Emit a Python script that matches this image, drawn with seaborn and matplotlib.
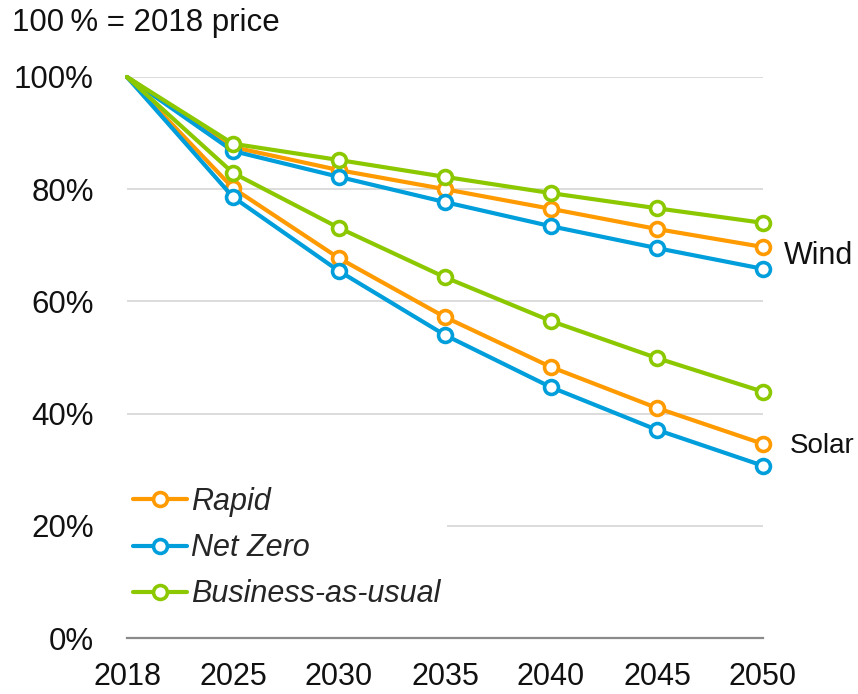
import matplotlib
matplotlib.use("Agg")
import matplotlib.pyplot as plt
import seaborn as sns
import pandas as pd
from matplotlib.lines import Line2D

years = ["2018", "2025", "2030", "2035", "2040", "2045", "2050"]
scenarios = ["Rapid", "Net Zero", "Business-as-usual"]

wind_rapid = [100, 87.5, 83.4, 80.0, 76.5, 72.9, 69.7]
wind_netzero = [100, 86.8, 82.2, 77.7, 73.4, 69.5, 65.8]
wind_bau = [100, 88.1, 85.2, 82.2, 79.3, 76.6, 74.0]
solar_rapid = [100, 80.2, 67.7, 57.2, 48.3, 41.0, 34.6]
solar_netzero = [100, 78.6, 65.4, 54.0, 44.7, 37.1, 30.7]
solar_bau = [100, 82.9, 73.1, 64.3, 56.5, 49.9, 43.9]

yticks = [0, 20, 40, 60, 80, 100]
ytick_labels = ["0%", "20%", "40%", "60%", "80%", "100%"]

colors = {"Rapid": "#FF9A00", "Net Zero": "#009EDB", "Business-as-usual": "#8CC800"}

series = {
    ("Rapid", "Wind"): wind_rapid,
    ("Rapid", "Solar"): solar_rapid,
    ("Net Zero", "Wind"): wind_netzero,
    ("Net Zero", "Solar"): solar_netzero,
    ("Business-as-usual", "Wind"): wind_bau,
    ("Business-as-usual", "Solar"): solar_bau,
}
rows = []
for (sc, tech), vals in series.items():
    for i, (yr, v) in enumerate(zip(years, vals)):
        rows.append({"scenario": sc, "tech": tech, "pos": i, "year": yr, "value": v})
df = pd.DataFrame(rows)

sns.set_theme(style="white")
plt.rcParams["font.family"] = ["Liberation Sans", "DejaVu Sans"]

W, H = 858, 694
fig = plt.figure(figsize=(W / 100, H / 100), dpi=100)
ax = fig.add_axes([127 / W, 1 - 638 / H, (763 - 127) / W, (638 - 77) / H])

for y in yticks[1:]:
    ax.axhline(y, color="#d9d9d9", lw=1.3, zorder=0)

LW, MS, MEW = 3.0, 10, 2.6
for sc in scenarios:
    sub = df[df.scenario == sc]
    sns.lineplot(data=sub, x="pos", y="value", units="tech", estimator=None,
                 color=colors[sc], lw=LW, marker="o", markevery=list(range(1, 7)),
                 ms=MS, mew=MEW, mfc="white", mec=colors[sc], legend=False,
                 ax=ax, clip_on=False, zorder=3)
for ln in ax.lines:
    if ln.get_marker() == "o":
        ln.set_markeredgecolor(ln.get_color())
        ln.set_markerfacecolor("white")

ax.set_xlim(0, 6)
ax.set_ylim(0, 100)
ax.set_xticks(range(len(years)))
ax.set_xticklabels(years)
ax.set_yticks(yticks)
ax.set_yticklabels(ytick_labels)
ax.set_xlabel("")
ax.set_ylabel("")
ax.tick_params(axis="both", length=0, labelsize=22.5, colors="#111111")
ax.tick_params(axis="y", pad=24)
ax.tick_params(axis="x", pad=17, labelsize=22)
for s in ["top", "right", "left"]:
    ax.spines[s].set_visible(False)
ax.spines["bottom"].set_color("#8a8a8a")
ax.spines["bottom"].set_linewidth(1.6)

ax.text(6.2, wind_rapid[-1] - 1.6, "Wind", fontsize=22, va="center", ha="left", color="#111111")
ax.text(6.25, solar_rapid[-1] - 0.3, "Solar", fontsize=20, va="center", ha="left", color="#111111")

fig.text(12 / W, 1 - 23 / H, "100\u2009% = 2018 price", fontsize=22.5, va="center", ha="left",
         color="#111111")

handles = [Line2D([0], [0], color=colors[sc], lw=LW, marker="o", ms=MS, mew=MEW,
                  mfc="white", mec=colors[sc]) for sc in scenarios]
leg = ax.legend(handles, scenarios, loc="lower left", bbox_to_anchor=(0.0, 0.04),
                frameon=True, facecolor="white", edgecolor="none", framealpha=1,
                fontsize=22, handlelength=1.75, handletextpad=0.15, labelspacing=0.53,
                borderpad=0.2, borderaxespad=0.0)
for t in leg.get_texts():
    t.set_fontstyle("italic")
leg.set_zorder(2)

fig.savefig("out.png", dpi=100)
